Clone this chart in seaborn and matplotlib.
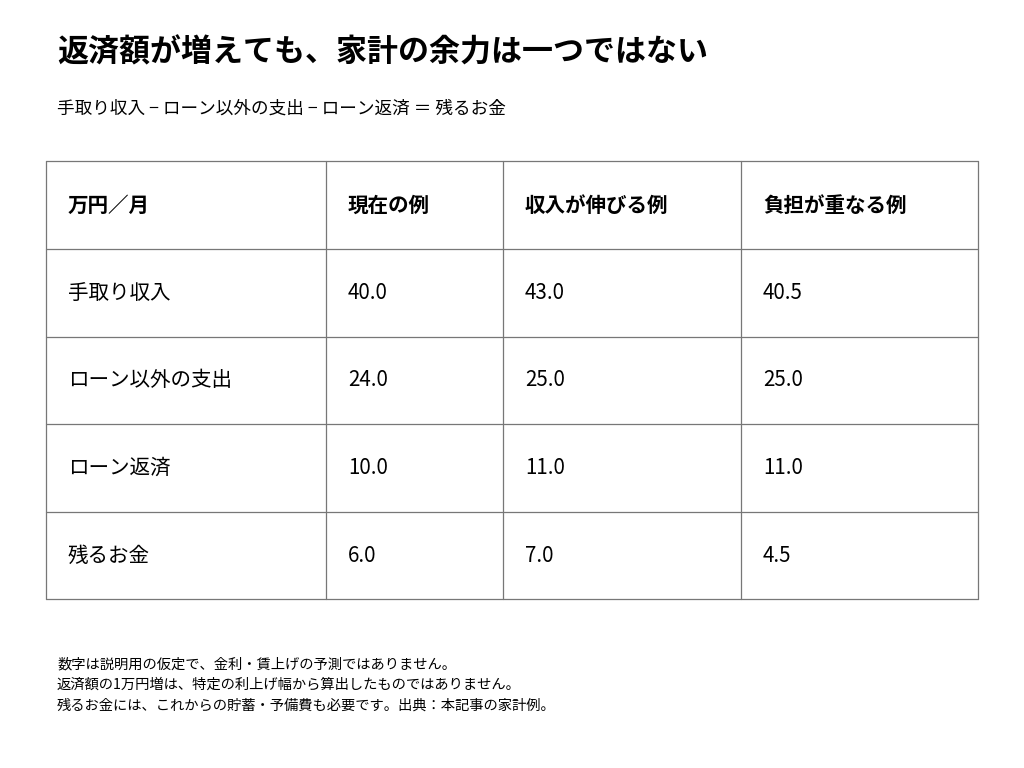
import matplotlib
matplotlib.use("Agg")
import matplotlib.pyplot as plt
import seaborn as sns

sns.set_theme(style="white")
plt.rcParams['font.family'] = ['Noto Sans CJK JP', 'DejaVu Sans']
plt.rcParams['text.color'] = 'black'

TITLE = "返済額が増えても、家計の余力は一つではない"
SUBTITLE = "手取り収入 − ローン以外の支出 − ローン返済 ＝ 残るお金"
HEADERS = ["万円／月", "現在の例", "収入が伸びる例", "負担が重なる例"]
ROW_LABELS = ["手取り収入", "ローン以外の支出", "ローン返済", "残るお金"]
CURRENT = [40.0, 24.0, 10.0, 6.0]
RAISE = [43.0, 25.0, 11.0, 7.0]
BURDEN = [40.5, 25.0, 11.0, 4.5]
NOTES = [
    "数字は説明用の仮定で、金利・賃上げの予測ではありません。",
    "返済額の1万円増は、特定の利上げ幅から算出したものではありません。",
    "残るお金には、これからの貯蓄・予備費も必要です。出典：本記事の家計例。",
]

fig = plt.figure(figsize=(10.24, 7.68), dpi=100)
ax = fig.add_axes([0, 0, 1, 1])
ax.set_xlim(0, 1024)
ax.set_ylim(768, 0)
ax.axis("off")

ax.text(57, 52, TITLE, fontsize=22.3, fontweight="bold", va="center", ha="left")
ax.text(57, 109, SUBTITLE, fontsize=12.7, va="center", ha="left")

col_x = [46, 326, 503, 741, 978]
row_y = [161, 249, 337, 424, 512, 599]
line_kw = dict(color="#777777", lw=0.9)
for x in col_x:
    ax.plot([x, x], [row_y[0], row_y[-1]], **line_kw)
for y in row_y:
    ax.plot([col_x[0], col_x[-1]], [y, y], **line_kw)

cells = [HEADERS] + [[lab, f"{a:.1f}", f"{b:.1f}", f"{c:.1f}"]
                     for lab, a, b, c in zip(ROW_LABELS, CURRENT, RAISE, BURDEN)]
for r, row in enumerate(cells):
    yc = (row_y[r] + row_y[r + 1]) / 2
    for c, txt in enumerate(row):
        ax.text(col_x[c] + 22, yc, txt, fontsize=14.8, va="center", ha="left",
                fontweight="bold" if r == 0 else "normal")

for i, note in enumerate(NOTES):
    ax.text(57, 664 + i * 21, note, fontsize=10.3, va="center", ha="left")

fig.savefig("out.png", dpi=100, facecolor="white")
